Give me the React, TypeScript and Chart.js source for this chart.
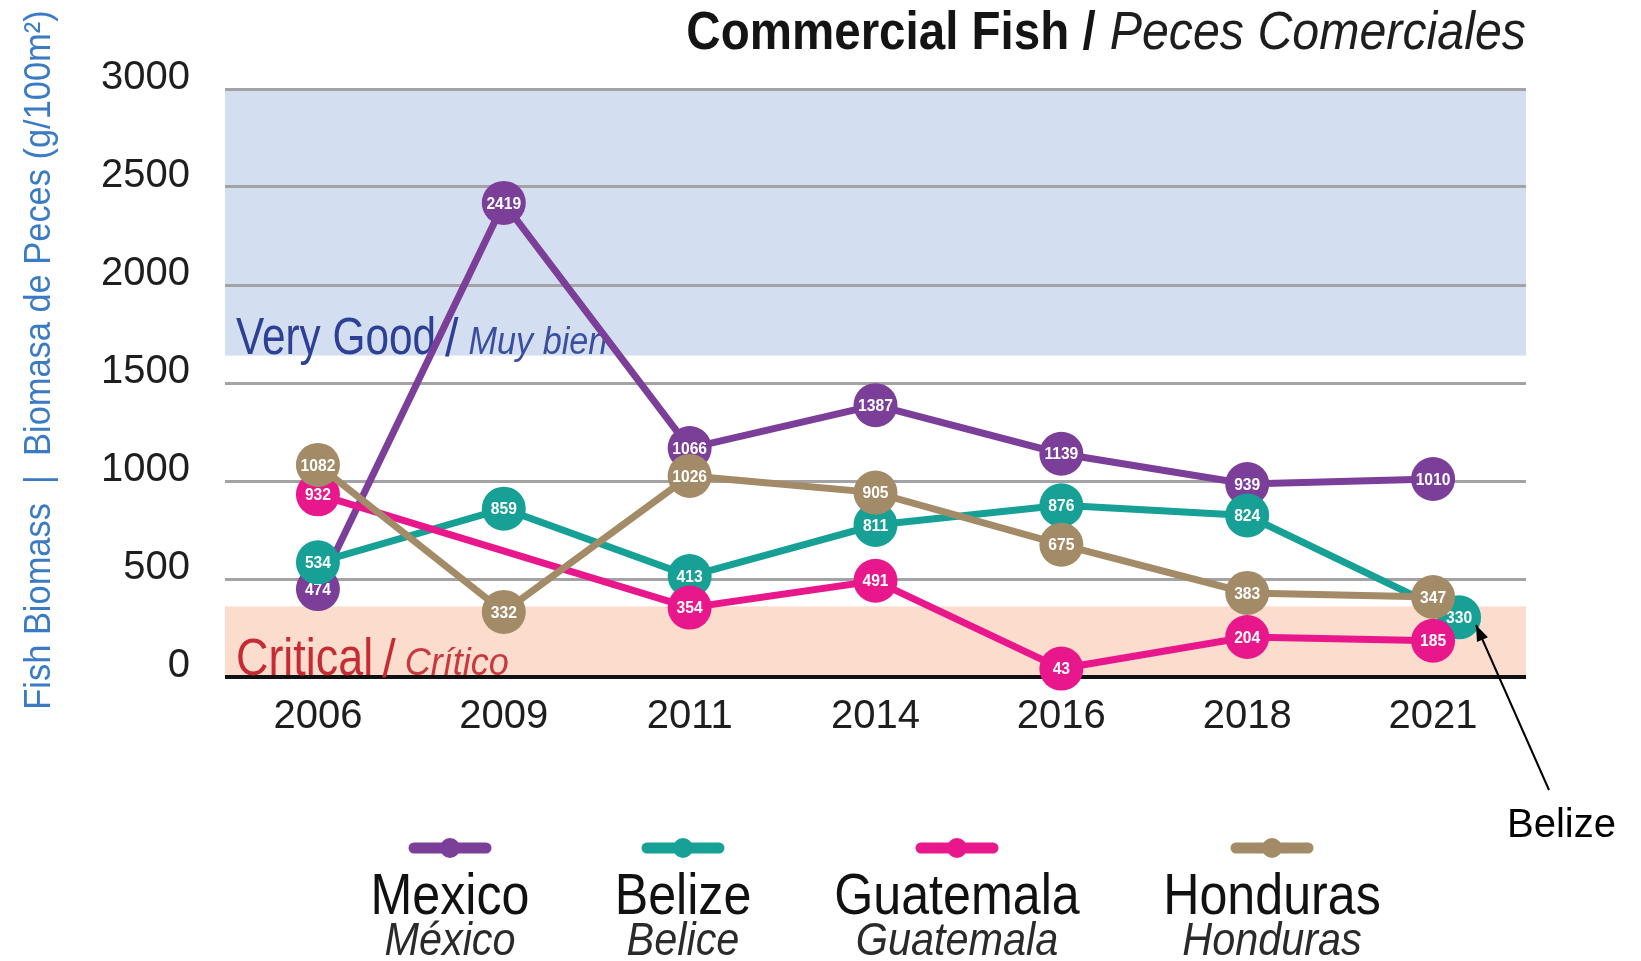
import React, { useEffect, useRef } from "react";
import { Chart, registerables } from "chart.js";

Chart.register(...registerables);

const years = ["2006", "2009", "2011", "2014", "2016", "2018", "2021"];
const mexico = [474, 2419, 1066, 1387, 1139, 939, 1010];
const belize = [534, 859, 413, 811, 876, 824, 330];
const guatemala = [932, null, 354, 491, 43, 204, 185];
const honduras = [1082, 332, 1026, 905, 675, 383, 347];
const namesEn = ["Mexico", "Belize", "Guatemala", "Honduras"];
const namesEs = ["México", "Belice", "Guatemala", "Honduras"];
const yTicks = [0, 500, 1000, 1500, 2000, 2500, 3000];
const veryGoodFrom = 1640;
const criticalTo = 360;

const colors = ["#7b3f99", "#17a196", "#e8188c", "#a38b68"];
const legendX = [450, 683, 957, 1272];
// pixel nudges the original uses to separate overlapping markers: [series, point, dx, dy]
const nudges = [
  [0, 0, 0, 5], [1, 0, 0, -10], [0, 2, 0, -20], [1, 2, 0, -20], [1, 3, 0, 7],
  [3, 3, 0, -7], [0, 5, 0, -9], [3, 5, 0, -9], [3, 6, 0, -12], [1, 6, 26, 5],
];

const FF = '"Liberation Sans", Arial, sans-serif';

function drawText(ctx: CanvasRenderingContext2D, text: string, x: number, y: number, font: string, color: string, align: CanvasTextAlign, sx = 1) {
  ctx.save();
  ctx.font = font;
  ctx.fillStyle = color;
  ctx.textBaseline = "alphabetic";
  ctx.textAlign = align;
  ctx.translate(x, y);
  ctx.scale(sx, 1);
  ctx.fillText(text, 0, 0);
  ctx.restore();
}
function textW(ctx: CanvasRenderingContext2D, text: string, font: string, sx = 1) {
  ctx.save();
  ctx.font = font;
  const w = ctx.measureText(text).width * sx;
  ctx.restore();
  return w;
}

const decor = {
  id: "decor",
  beforeDraw(chart: any) {
    const { ctx, chartArea: a, scales } = chart;
    const y = scales.y;
    ctx.save();
    ctx.fillStyle = "#d3dff0";
    const t = y.getPixelForValue(3000), b = y.getPixelForValue(veryGoodFrom);
    ctx.fillRect(a.left, t, a.right - a.left, b - t);
    ctx.fillStyle = "#fbdccd";
    const t2 = y.getPixelForValue(criticalTo), b2 = y.getPixelForValue(0);
    ctx.fillRect(a.left, t2, a.right - a.left, b2 - t2);
    ctx.restore();
  },
  beforeDatasetsDraw(chart: any) {
    const ctx = chart.ctx;
    const x0 = chart.chartArea.left + 11;
    // Very Good / Muy bien
    const f1 = `51px ${FF}`;
    const fs = `54px ${FF}`;
    drawText(ctx, "Very Good", x0, 354, f1, "#2e3f96", "left", 0.83);
    let x = x0 + textW(ctx, "Very Good", f1, 0.83) + 9;
    drawText(ctx, "/", x, 356, fs, "#2e3f96", "left", 0.9);
    x += textW(ctx, "/", fs, 0.9) + 10;
    drawText(ctx, "Muy bien", x, 354, `italic 38px ${FF}`, "#3c4f9f", "left", 0.9);
    // Critical / Crítico
    drawText(ctx, "Critical", x0, 675, f1, "#c62a33", "left", 0.88);
    x = x0 + textW(ctx, "Critical", f1, 0.88) + 9;
    drawText(ctx, "/", x, 677, fs, "#c62a33", "left", 0.9);
    x += textW(ctx, "/", fs, 0.9) + 9;
    drawText(ctx, "Crítico", x, 675, `italic 38px ${FF}`, "#c8393f", "left", 0.95);
  },
  afterDatasetUpdate(chart: any, args: any) {
    const meta = args.meta;
    nudges.forEach(([s, p, dx, dy]) => {
      if (s === args.index && meta.data[p]) {
        meta.data[p].x += dx;
        meta.data[p].y += dy;
      }
    });
  },
  afterDatasetDraw(chart: any, args: any) {
    const ctx = chart.ctx;
    const ds = chart.data.datasets[args.index];
    ctx.save();
    ctx.font = `bold 17px ${FF}`;
    ctx.fillStyle = "#ffffff";
    ctx.textAlign = "center";
    ctx.textBaseline = "middle";
    args.meta.data.forEach((pt: any, i: number) => {
      const v = ds.data[i];
      if (v == null) return;
      ctx.save();
      ctx.translate(pt.x, pt.y + 1);
      ctx.scale(0.92, 1);
      ctx.fillText(String(v), 0, 0);
      ctx.restore();
    });
    ctx.restore();
  },
  afterDraw(chart: any) {
    const ctx = chart.ctx;
    // Title
    const right = chart.chartArea.right;
    const fi = `italic 54px ${FF}`;
    const fb = `bold 54px ${FF}`;
    const wi = textW(ctx, "Peces Comerciales", fi, 0.895);
    drawText(ctx, "Peces Comerciales", right, 49, fi, "#1e1e1e", "right", 0.895);
    drawText(ctx, "Commercial Fish /", right - wi - 14, 49, fb, "#141414", "right", 0.88);
    // Axis title
    ctx.save();
    ctx.translate(50, 360);
    ctx.rotate(-Math.PI / 2);
    ctx.scale(0.93, 1);
    ctx.font = `37px ${FF}`;
    ctx.fillStyle = "#3a7bc4";
    ctx.textAlign = "center";
    ctx.textBaseline = "alphabetic";
    ctx.fillText("Fish Biomass  |  Biomasa de Peces (g/100m²)", 0, 0);
    ctx.restore();
    // Legend
    chart.data.datasets.forEach((ds: any, i: number) => {
      const cx = legendX[i];
      ctx.save();
      ctx.strokeStyle = ds.borderColor;
      ctx.fillStyle = ds.borderColor;
      ctx.lineWidth = 11;
      ctx.lineCap = "round";
      ctx.beginPath();
      ctx.moveTo(cx - 36, 848);
      ctx.lineTo(cx + 36, 848);
      ctx.stroke();
      ctx.beginPath();
      ctx.arc(cx, 848, 10, 0, Math.PI * 2);
      ctx.fill();
      ctx.restore();
      drawText(ctx, namesEn[i], cx, 914, `58px ${FF}`, "#111111", "center", 0.865);
      drawText(ctx, namesEs[i], cx, 955, `italic 46px ${FF}`, "#2a2a2a", "center", 0.9);
    });
    // Belize annotation
    const x1 = 1549, y1 = 790, x2 = 1476, y2 = 625;
    ctx.save();
    ctx.strokeStyle = "#000";
    ctx.fillStyle = "#000";
    ctx.lineWidth = 2;
    ctx.beginPath();
    ctx.moveTo(x1, y1);
    ctx.lineTo(x2, y2);
    ctx.stroke();
    const ang = Math.atan2(y2 - y1, x2 - x1);
    const L = 16, W = 6;
    ctx.beginPath();
    ctx.moveTo(x2, y2);
    ctx.lineTo(x2 - L * Math.cos(ang) + W * Math.sin(ang), y2 - L * Math.sin(ang) - W * Math.cos(ang));
    ctx.lineTo(x2 - L * Math.cos(ang) - W * Math.sin(ang), y2 - L * Math.sin(ang) + W * Math.cos(ang));
    ctx.closePath();
    ctx.fill();
    ctx.restore();
    drawText(ctx, "Belize", 1507, 837, `40px ${FF}`, "#000", "left", 1);
  },
};

export default function App() {
  const ref = useRef<HTMLCanvasElement | null>(null);
  useEffect(() => {
    if (!ref.current) return;
    const series = [mexico, belize, guatemala, honduras];
    const chart = new Chart(ref.current, {
      type: "line",
      data: {
        labels: years,
        datasets: series.map((d, i) => ({
          label: namesEn[i],
          data: d,
          borderColor: colors[i],
          backgroundColor: colors[i],
          pointBackgroundColor: colors[i],
          pointBorderWidth: 0,
          pointRadius: 22,
          pointHoverRadius: 22,
          borderWidth: 7,
          tension: 0,
          spanGaps: true,
          clip: false,
          order: 4 - i,
        })),
      },
      options: {
        responsive: false,
        animation: false,
        devicePixelRatio: 1,
        layout: { padding: { left: 0, right: 115, top: 89, bottom: 224 } },
        plugins: { legend: { display: false }, title: { display: false }, tooltip: { enabled: false } },
        scales: {
          x: {
            offset: true,
            grid: { display: false, drawTicks: false },
            border: { display: false },
            ticks: { color: "#1e1e1e", font: { family: FF, size: 40 }, padding: 16 },
            afterFit: (s: any) => { s.height = 60; },
          },
          y: {
            min: 0,
            max: 3000,
            afterBuildTicks: (s: any) => { s.ticks = yTicks.map((v) => ({ value: v })); },
            grid: {
              drawTicks: false,
              color: (c: any) => (c.tick && c.tick.value === 0 ? "#111111" : "#a3a3a5"),
              lineWidth: (c: any) => (c.tick && c.tick.value === 0 ? 4 : 3),
            },
            border: { display: false },
            ticks: {
              color: "#1e1e1e",
              font: { family: FF, size: 40 },
              padding: 35,
              labelOffset: -11,
              callback: (v: any) => String(v),
            },
            afterFit: (s: any) => { s.width = 225; },
          },
        },
      },
      plugins: [decor],
    } as any);
    return () => chart.destroy();
  }, []);
  return (
    <div style={{ position: "absolute", left: 0, top: 0, width: 1641, height: 961, background: "#fff" }}>
      <canvas ref={ref} width={1641} height={961} style={{ display: "block" }} />
    </div>
  );
}
